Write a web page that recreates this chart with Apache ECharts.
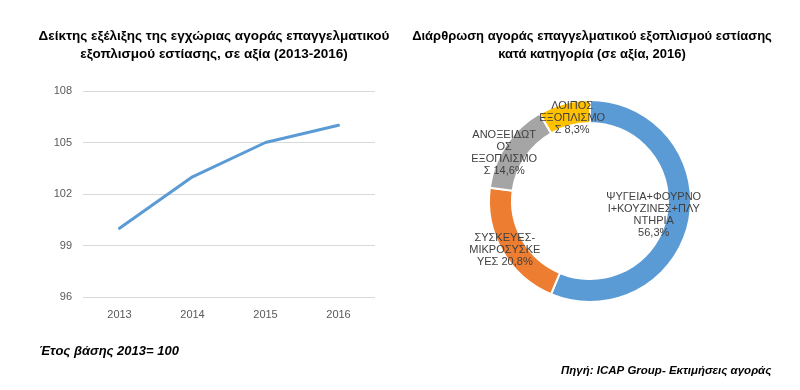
<!DOCTYPE html>
<html><head><meta charset="utf-8">
<script src="https://cdn.jsdelivr.net/npm/echarts@6/dist/echarts.min.js"></script>
<style>html,body{margin:0;padding:0;background:#fff}#c{width:800px;height:390px}</style>
</head><body><div id="c"></div>
<script>
// ---- data ----
const years = ['2013', '2014', '2015', '2016'];
const indexValues = [100, 103, 105, 106];
const yMin = 96, yMax = 108, yStep = 3;

const pieLabels = [
  'ΨΥΓΕΙΑ+ΦΟΥΡΝΟ\nΙ+ΚΟΥΖΙΝΕΣ+ΠΛΥ\nΝΤΗΡΙΑ\n',
  'ΣΥΣΚΕΥΕΣ-\nΜΙΚΡΟΣΥΣΚΕ\nΥΕΣ ',
  'ΑΝΟΞΕΙΔΩΤ\nΟΣ\nΕΞΟΠΛΙΣΜΟ\nΣ ',
  'ΛΟΙΠΟΣ\nΕΞΟΠΛΙΣΜΟ\nΣ '
];
const pieValues = [56.3, 20.8, 14.6, 8.3];

const leftTitle = 'Δείκτης εξέλιξης της εγχώριας αγοράς επαγγελματικού\nεξοπλισμού εστίασης, σε αξία (2013-2016)';
const rightTitle = 'Διάρθρωση αγοράς επαγγελματικού εξοπλισμού εστίασης\nκατά κατηγορία (σε αξία, 2016)';
const noteLeft = 'Έτος βάσης 2013= 100';
const noteRight = 'Πηγή: ICAP Group- Εκτιμήσεις αγοράς';

// ---- chart ----
const pieColors = ['#5B9BD5', '#ED7D31', '#A5A5A5', '#FFC000'];
const labelShift = [[-27, -4], [-5, 3], [-9, 3], [6, 6]];

const chart = echarts.init(document.getElementById('c'), null, {renderer: 'canvas'});
const titleStyle = {fontFamily: 'Liberation Sans', fontWeight: 'bold', fontSize: 13.5, color: '#000', lineHeight: 18};
const noteStyle = {fontFamily: 'Liberation Sans', fontWeight: 'bold', fontStyle: 'italic', fontSize: 13, color: '#000'};

chart.setOption({
  backgroundColor: '#fff',
  animation: false,
  title: [
    {text: leftTitle, left: 209, top: 22, textAlign: 'center', textStyle: titleStyle},
    {text: rightTitle, left: 587, top: 22, textAlign: 'center', textStyle: Object.assign({}, titleStyle, {fontSize: 13})},
    {text: noteLeft, left: 34, top: 340, textStyle: noteStyle},
    {text: noteRight, left: 556, top: 360, textStyle: Object.assign({}, noteStyle, {fontSize: 11.5})}
  ],
  grid: {left: 83, right: 425, top: 91, bottom: 93, containLabel: false},
  xAxis: {
    type: 'category', data: years, boundaryGap: true,
    axisLine: {show: false}, axisTick: {show: false},
    axisLabel: {color: '#595959', fontSize: 11, fontFamily: 'Liberation Sans', margin: 12}
  },
  yAxis: {
    type: 'value', min: yMin, max: yMax, interval: yStep,
    axisLine: {show: false}, axisTick: {show: false},
    axisLabel: {color: '#595959', fontSize: 11, fontFamily: 'Liberation Sans', margin: 11},
    splitLine: {lineStyle: {color: '#D9D9D9', width: 1}}
  },
  series: [
    {
      type: 'line', data: indexValues, symbol: 'none',
      lineStyle: {color: '#5B9BD5', width: 3, cap: 'round', join: 'round'}
    },
    {
      type: 'pie', center: [590, 201], radius: [78, 101],
      startAngle: 90, clockwise: true,
      data: pieValues.map((v, i) => ({value: v, name: pieLabels[i], itemStyle: {color: pieColors[i]}})),
      itemStyle: {borderColor: '#fff', borderWidth: 2},
      label: {
        show: true, position: 'inside',
        formatter: p => p.name + p.value.toFixed(1).replace('.', ',') + '%',
        color: '#404040', fontSize: 11, fontFamily: 'Liberation Sans', lineHeight: 12, align: 'center'
      },
      labelLine: {show: false},
      labelLayout: p => ({dx: labelShift[p.dataIndex][0], dy: labelShift[p.dataIndex][1]}),
      emphasis: {disabled: true}
    }
  ]
});
</script>
</body></html>
